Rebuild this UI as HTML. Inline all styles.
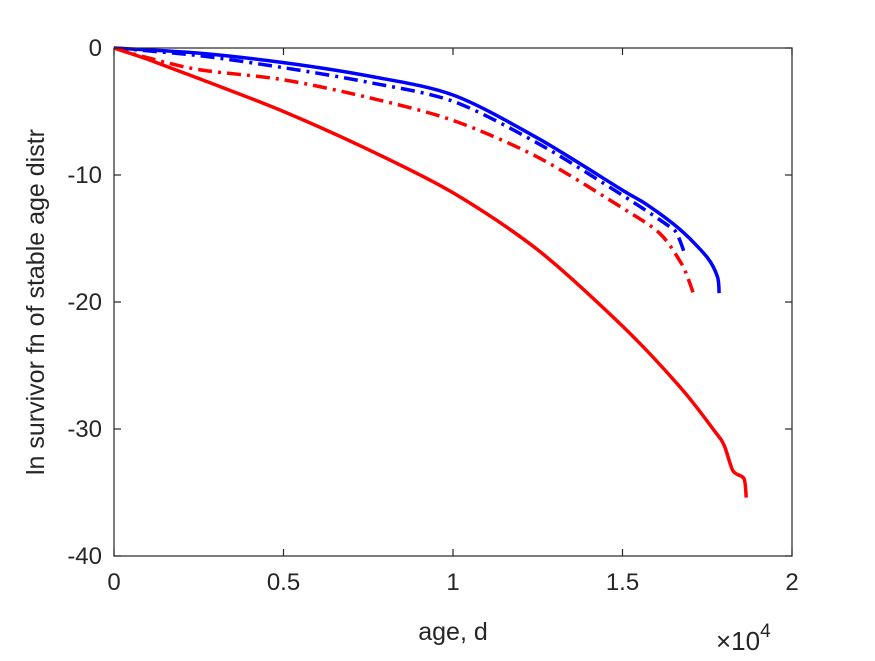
<!DOCTYPE html>
<html><head><meta charset="utf-8"><style>
body{margin:0;background:#fff}
svg{font-family:"Liberation Sans",sans-serif}
</style></head><body>
<svg id="chart" width="875" height="656" viewBox="0 0 875 656" xmlns="http://www.w3.org/2000/svg">
<rect width="875" height="656" fill="#fff"/>
<g id="plot"></g>
<g id="axes"></g>
<text x="453" y="640" font-size="25" fill="#262626" text-anchor="middle">age, d</text>
<text x="716" y="650" font-size="26" fill="#262626">×10<tspan font-size="19" dy="-13">4</tspan></text>
<text transform="translate(44,302) rotate(-90)" font-size="25" fill="#262626" text-anchor="middle">ln survivor fn of stable age distr</text>
</svg>
<script>
const xTicks=[0,0.5,1,1.5,2];
const xTickLabels=["0","0.5","1","1.5","2"];
const yTicks=[0,-10,-20,-30,-40];
const yTickLabels=["0","-10","-20","-30","-40"];
const redSolidX=[0,0.1,0.25,0.5,0.75,1.0,1.25,1.5,1.67,1.77,1.80,1.826,1.858,1.865];
const redSolidY=[0,-0.9,-2.4,-5.0,-8.0,-11.4,-15.9,-21.9,-26.7,-30.1,-31.3,-33.3,-33.9,-35.4];
const blueSolidX=[0,0.25,0.5,0.75,1.0,1.25,1.5,1.57,1.67,1.75,1.78,1.785];
const blueSolidY=[0,-0.4,-1.15,-2.2,-3.7,-7.1,-11.2,-12.3,-14.3,-16.5,-18.0,-19.3];
const blueDashX=[0,0.25,0.5,0.75,1.0,1.25,1.5,1.63,1.66,1.685];
const blueDashY=[0,-0.6,-1.55,-2.7,-4.2,-7.5,-11.6,-13.9,-14.6,-16.3];
const redDashX=[0,0.09,0.25,0.5,0.75,1.0,1.25,1.5,1.61,1.67,1.69,1.71];
const redDashY=[0,-0.7,-1.7,-2.5,-3.9,-5.7,-8.6,-12.6,-14.6,-16.8,-17.9,-19.4];
const X0=114,X1=792,Y0=48,Y1=556;
function sx(v){return X0+(v-0)/(2-0)*(X1-X0);}
function sy(v){return Y0+(0-v)/40*(Y1-Y0);}
const NS="http://www.w3.org/2000/svg";
const plot=document.getElementById('plot');
const axes=document.getElementById('axes');
function mk(t,a,p){const e=document.createElementNS(NS,t);for(const k in a)e.setAttribute(k,a[k]);p.appendChild(e);return e;}
function smoothPath(pts){
  let d='M'+pts[0][0].toFixed(1)+' '+pts[0][1].toFixed(1);
  const t=0.15;
  for(let i=0;i<pts.length-1;i++){
    const p0=pts[Math.max(0,i-1)],p1=pts[i],p2=pts[i+1],p3=pts[Math.min(pts.length-1,i+2)];
    const c1x=p1[0]+(p2[0]-p0[0])*t,c1y=p1[1]+(p2[1]-p0[1])*t;
    const c2x=p2[0]-(p3[0]-p1[0])*t,c2y=p2[1]-(p3[1]-p1[1])*t;
    d+=' C'+c1x.toFixed(1)+' '+c1y.toFixed(1)+' '+c2x.toFixed(1)+' '+c2y.toFixed(1)+' '+p2[0].toFixed(1)+' '+p2[1].toFixed(1);
  }
  return d;
}
function series(xs,ys,color,dash,name){
  const pts=xs.map((x,i)=>[sx(x),sy(ys[i])]);
  const p=mk('path',{d:smoothPath(pts),fill:'none',stroke:color,'stroke-width':3.5,'stroke-linejoin':'round'},plot);
  if(dash)p.setAttribute('stroke-dasharray',dash);
  
  
}
series(redDashX,redDashY,'#ff0000','14 6 3 6','red-dashdot-line');
series(blueDashX,blueDashY,'#0000ff','14 6 3 6','blue-dashdot-line');
series(blueSolidX,blueSolidY,'#0000ff',null,'blue-solid-line');
series(redSolidX,redSolidY,'#ff0000',null,'red-solid-line');
const box=mk('rect',{x:X0,y:Y0,width:X1-X0,height:Y1-Y0,fill:'none',stroke:'#262626','stroke-width':1.2},axes);


xTicks.forEach((v,i)=>{
  const x=sx(v);
  mk('line',{x1:x,x2:x,y1:Y1,y2:Y1-7,stroke:'#262626','stroke-width':1.2},axes);
  mk('line',{x1:x,x2:x,y1:Y0,y2:Y0+7,stroke:'#262626','stroke-width':1.2},axes);
  const t=mk('text',{x:x,y:Y1+34,'font-size':24,fill:'#262626','text-anchor':'middle'},axes);
  t.textContent=xTickLabels[i];
  
  
});
yTicks.forEach((v,i)=>{
  const y=sy(v);
  mk('line',{x1:X0,x2:X0+7,y1:y,y2:y,stroke:'#262626','stroke-width':1.2},axes);
  mk('line',{x1:X1,x2:X1-7,y1:y,y2:y,stroke:'#262626','stroke-width':1.2},axes);
  const t=mk('text',{x:X0-12,y:y+8,'font-size':24,fill:'#262626','text-anchor':'end'},axes);
  t.textContent=yTickLabels[i];
  
  
});
</script>
</body></html>
